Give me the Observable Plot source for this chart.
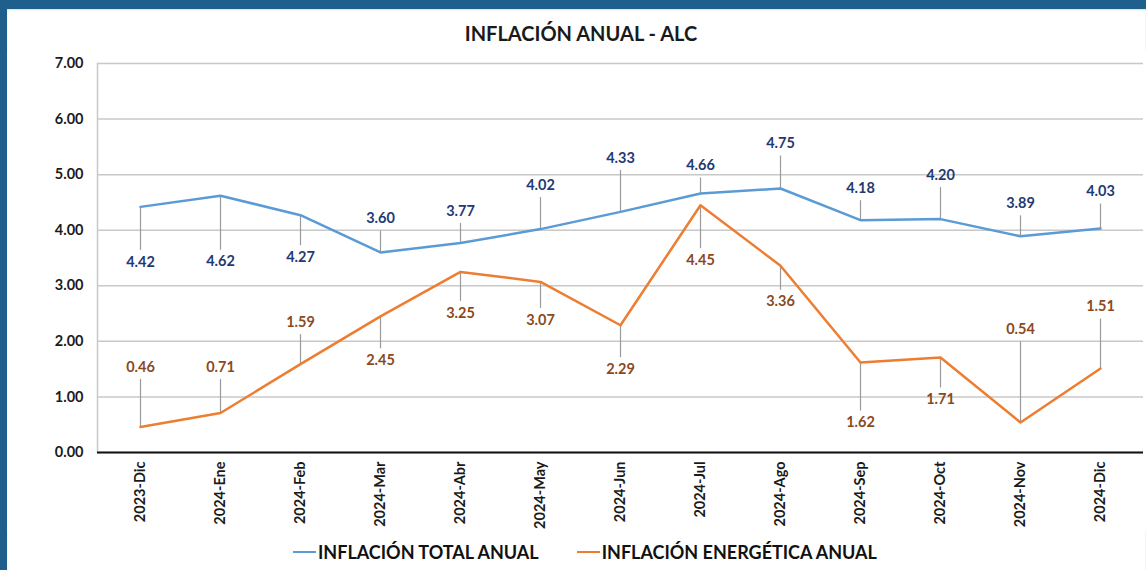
<!DOCTYPE html>
<html><head><meta charset="utf-8">
<script src="https://cdn.jsdelivr.net/npm/d3@7"></script>
<script src="https://cdn.jsdelivr.net/npm/@observablehq/plot@0.6"></script>
<style>
html,body{margin:0;padding:0;width:1146px;height:570px;overflow:hidden;background:#1f5f8b;font-family:Lato,"Open Sans",sans-serif}
#card{position:absolute;left:7px;top:9px;width:1139px;height:561px;background:#fff;box-shadow:inset 0 1px 2px #d8dde2}
#title{position:absolute;left:0;top:12px;width:1148px;text-align:center;font-weight:700;font-size:20px;line-height:24px;color:#1a1a1a}
#ylab{position:absolute;left:20px;top:239px;width:20px;height:20px;text-align:center;font-weight:700;font-size:19px;line-height:20px;color:#1a1a1a;transform:rotate(-90deg)}
#chart{position:absolute;left:0;top:41px}
#legend{position:absolute;left:286px;top:532px;display:flex;align-items:center;font-weight:700;font-size:18px;color:#111;white-space:nowrap}
.sw{display:inline-block;width:23px;height:2.5px;margin-right:2px}
.item{display:flex;align-items:center;margin-right:38px}
</style></head>
<body><div id="card">
<div id="title">INFLACIÓN ANUAL - ALC</div>
<div id="ylab">%</div>
<div id="chart"></div>
<div id="legend"></div>
</div>
<script>
const categories = ["2023-Dic","2024-Ene","2024-Feb","2024-Mar","2024-Abr","2024-May","2024-Jun","2024-Jul","2024-Ago","2024-Sep","2024-Oct","2024-Nov","2024-Dic"];
const totalValues = [4.42,4.62,4.27,3.60,3.77,4.02,4.33,4.66,4.75,4.18,4.20,3.89,4.03];
const energyValues = [0.46,0.71,1.59,2.45,3.25,3.07,2.29,4.45,3.36,1.62,1.71,0.54,1.51];
const yTicks = [0,1,2,3,4,5,6,7];
const seriesNames = ["INFLACIÓN TOTAL ANUAL","INFLACIÓN ENERGÉTICA ANUAL"];

// layout of the data-label callouts (pixel offsets; + = below the point)
const totalLabelOffset = [55,66,42,-34,-32,-44,-54,-28,-45,-32,-44,-33,-37];
const energyLabelOffset = [-60,-46,-42,44,41,38,44,55,36,60,42,-93,-62];

const W = 1139, H = 480, mT = 13, mB = 78, mL = 90, mR = 3;
const k = (H - mT - mB) / 7; // px per unit
const lineColors = ["#5b9bd5","#ed7d31"];
const labelColors = ["#1f3a73","#8a4a1e"];

function rows(values, offsets, s) {
  return categories.map((c, i) => {
    const off = offsets[i];
    const sg = Math.sign(off);
    return {cat: c, v: values[i], s, ly: values[i] - off / k, le: values[i] - (off - sg * 12) / k};
  });
}
const tRows = rows(totalValues, totalLabelOffset, 0);
const eRows = rows(energyValues, energyLabelOffset, 1);
const all = tRows.concat(eRows);

const chart = Plot.plot({
  width: W, height: H,
  marginTop: mT, marginBottom: mB, marginLeft: mL, marginRight: mR,
  style: {fontFamily: "Lato, 'Open Sans', sans-serif", fontWeight: "bold", fontSize: "14px", color: "#1a1a1a", background: "#fff"},
  x: {type: "point", domain: categories, padding: 0.5},
  y: {domain: [0, 7]},
  marks: [
    Plot.gridY(yTicks, {stroke: "#c8c8c8", strokeOpacity: 1, strokeWidth: 1.5}),
    Plot.frame({anchor: "left", stroke: "#c8c8c8", strokeWidth: 1.5}),
    Plot.ruleY([0], {stroke: "#111", strokeWidth: 2}),
    Plot.link(all, {x1: "cat", x2: "cat", y1: "v", y2: "le", stroke: "#9a9a9a", strokeWidth: 1.2}),
    Plot.line(tRows, {x: "cat", y: "v", stroke: lineColors[0], strokeWidth: 2.5}),
    Plot.line(eRows, {x: "cat", y: "v", stroke: lineColors[1], strokeWidth: 2.5}),
    Plot.text(all, {x: "cat", y: "ly", text: d => d.v.toFixed(2), fill: d => labelColors[d.s], fontSize: 14.5, fontWeight: "bold"}),
    Plot.axisY(yTicks, {tickFormat: d3.format(".2f"), tickSize: 0, tickPadding: 14, label: null, fill: "#1a1a1a", fontSize: 14.5}),
    Plot.axisX({tickRotate: -90, tickSize: 0, tickPadding: 9, label: null, fill: "#1a1a1a", fontSize: 14.5})
  ]
});
document.getElementById("chart").appendChild(chart);

const leg = document.getElementById("legend");
seriesNames.forEach((n, i) => {
  const it = document.createElement("div");
  it.className = "item";
  it.innerHTML = `<span class="sw" style="background:${lineColors[i]}"></span><span>${n}</span>`;
  leg.appendChild(it);
});
</script>
</body></html>
